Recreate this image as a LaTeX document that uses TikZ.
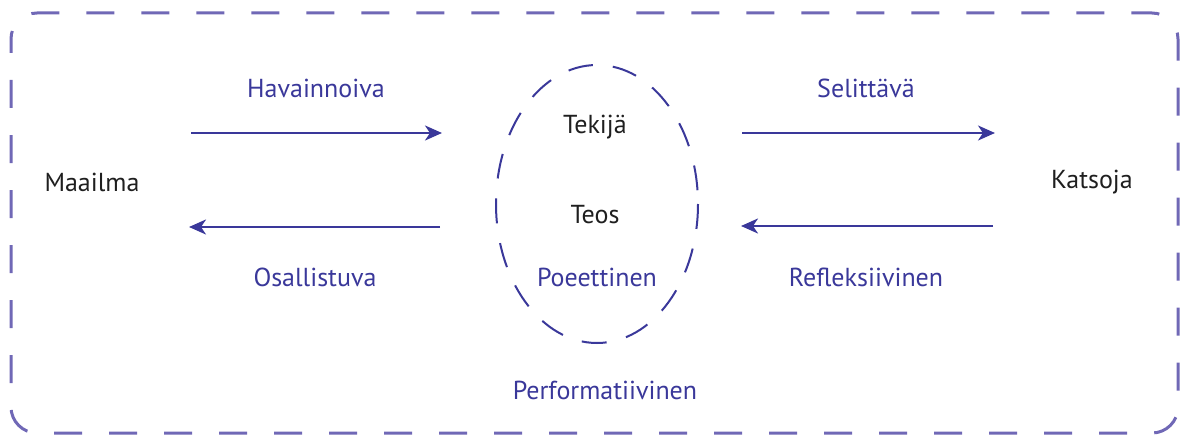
\documentclass[tikz,border=0pt]{standalone}
\usepackage{fontspec}
\setmainfont{PT Sans}
\usetikzlibrary{arrows.meta}

\definecolor{modeblue}{HTML}{3A389A}
\definecolor{framepurple}{HTML}{7068B6}

\tikzset{
  modetext/.style={text=modeblue, font=\fontsize{26}{30}\selectfont},
  roletext/.style={text=black!88, font=\fontsize{26}{30}\selectfont},
  flow/.style={modeblue, line width=2.4pt, -{Stealth[length=17pt,width=15pt,inset=5pt]}},
}

\begin{document}
\begin{tikzpicture}[x=1pt,y=-1pt]
            \useasboundingbox (0,0) rectangle (1187,436);

            %frame
            \draw[framepurple, line width=3pt, rounded corners=26pt, dash pattern=on 28pt off 27pt, dash phase=14pt] (11,13) rectangle (1178,433);

            %work
            \draw[modeblue, line width=2pt, dash pattern=on 25pt off 20pt] (597,204) ellipse (101 and 139);

            \node[roletext] (tekija) at (595,127) {Tekijä};

            \node[roletext] (teos) at (595,215) {Teos};

            \node[modetext] (poeettinen) at (597,277) {Poeettinen};

            \node[modetext] (performatiivinen) at (605,390) {Performatiivinen};

            %sides
            \node[roletext] (maailma) at (92,182) {Maailma};

            \node[roletext] (katsoja) at (1092,182) {Katsoja};

            %arrows
            \coordinate (havA) at (191,133);
            \coordinate (havB) at (442,133);
            \coordinate (osaA) at (440,227);
            \coordinate (osaB) at (189,227);
            \coordinate (selA) at (742,133);
            \coordinate (selB) at (995,133);
            \coordinate (refA) at (993,226);
            \coordinate (refB) at (741,226);

            \draw[flow] (havA) -- (havB);

            \node[modetext] (havainnoiva) at (316,88) {Havainnoiva};

            \draw[flow] (osaA) -- (osaB);

            \node[modetext] (osallistuva) at (315,277) {Osallistuva};

            \draw[flow] (selA) -- (selB);

            \node[modetext] (selittava) at (866,88) {Selittävä};

            \draw[flow] (refA) -- (refB);

            \node[modetext] (refleksiivinen) at (866,277) {Refleksiivinen};
        \end{tikzpicture}
\end{document}
